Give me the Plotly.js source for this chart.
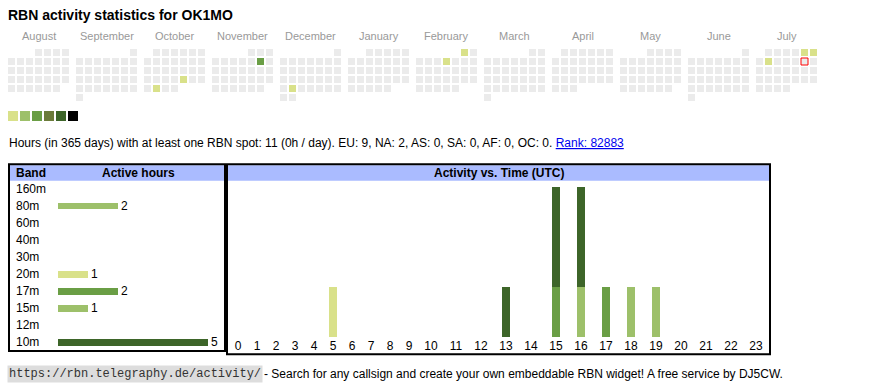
<!DOCTYPE html>
<html><head><meta charset="utf-8">
<script src="https://cdn.plot.ly/plotly-3.0.1.min.js"></script>
<style>html,body{margin:0;padding:0;background:#fff;}#chart{width:870px;height:390px;}</style>
</head><body><div id="chart"></div>
<script>
// ---------------- data ----------------
const callsign = 'OK1MO';
const monthNames = ['August','September','October','November','December','January','February','March','April','May','June','July'];
const firstYear = 2024, firstMonth = 7; // August 2024 (0-based month)
const activeDates = ['2024-10-25','2024-10-29','2024-11-09','2024-12-24','2025-02-01','2025-02-06','2025-07-05','2025-07-06','2025-07-08'];
const activeDayHours = [1,1,3,1,1,1,1,1,1];
const todayDate = '2025-07-12';
const levelColors = ['#d9e18a','#9dc06a','#6a9e45','#6b7b3a','#3d6529','#000000'];
const emptyColor = '#ebebeb';

const bands = ['160m','80m','60m','40m','30m','20m','17m','15m','12m','10m'];
const bandHours = [0,2,0,0,0,1,2,1,0,5];
const bandColors = ['#d9e18a','#9dc06a','#d9e18a','#9dc06a','#6a9e45','#d9e18a','#6a9e45','#9dc06a','#6b7b3a','#3d6529'];

const hourLabels = ['0','1','2','3','4','5','6','7','8','9','10','11','12','13','14','15','16','17','18','19','20','21','22','23'];
const act160m = [0,0,0,0,0,0,0,0,0,0,0,0,0,0,0,0,0,0,0,0,0,0,0,0];
const act80m  = [0,0,0,0,0,0,0,0,0,0,0,0,0,0,0,0,0,0,1,1,0,0,0,0];
const act60m  = [0,0,0,0,0,0,0,0,0,0,0,0,0,0,0,0,0,0,0,0,0,0,0,0];
const act40m  = [0,0,0,0,0,0,0,0,0,0,0,0,0,0,0,0,0,0,0,0,0,0,0,0];
const act30m  = [0,0,0,0,0,0,0,0,0,0,0,0,0,0,0,0,0,0,0,0,0,0,0,0];
const act20m  = [0,0,0,0,0,1,0,0,0,0,0,0,0,0,0,0,0,0,0,0,0,0,0,0];
const act17m  = [0,0,0,0,0,0,0,0,0,0,0,0,0,0,0,1,0,1,0,0,0,0,0,0];
const act15m  = [0,0,0,0,0,0,0,0,0,0,0,0,0,0,0,0,1,0,0,0,0,0,0,0];
const act12m  = [0,0,0,0,0,0,0,0,0,0,0,0,0,0,0,0,0,0,0,0,0,0,0,0];
const act10m  = [0,0,0,0,0,0,0,0,0,0,0,0,0,1,0,2,2,0,0,0,0,0,0,0];
const bandActivity = [act160m,act80m,act60m,act40m,act30m,act20m,act17m,act15m,act12m,act10m];

const totalHours = 11, days = 365;
const continentCounts = {EU:9, NA:2, AS:0, SA:0, AF:0, OC:0};
const rank = 82883;

// ---------------- layout helpers ----------------
const W = 870, H = 390;
const px = x => x / W;
const py = y => 1 - y / H;
const FONT = 'Liberation Sans, Arial, sans-serif';
const cellPitch = 9, monthPitch = 68 / 9;

// calendar cells
const calX = [], calY = [], calC = [], calT = [];
let todayX = null, todayY = null;
const pad = n => (n < 10 ? '0' : '') + n;
for (let m = 0; m < 12; m++) {
  const yr = firstYear + Math.floor((firstMonth + m) / 12);
  const mo = (firstMonth + m) % 12;
  const nDays = new Date(Date.UTC(yr, mo + 1, 0)).getUTCDate();
  const first = (new Date(Date.UTC(yr, mo, 1)).getUTCDay() + 6) % 7;
  for (let d = 1; d <= nDays; d++) {
    const idx = first + d - 1;
    const col = idx % 7, row = Math.floor(idx / 7);
    const iso = yr + '-' + pad(mo + 1) + '-' + pad(d);
    const k = activeDates.indexOf(iso);
    calX.push(m * monthPitch + col);
    calY.push(row);
    calC.push(k < 0 ? emptyColor : levelColors[Math.min(activeDayHours[k], 6) - 1]);
    calT.push(iso);
    if (iso === todayDate) { todayX = m * monthPitch + col; todayY = row; }
  }
}

// hour slot positions (non-uniform: width follows label length)
const hourCenters = [];
let acc = 0;
hourLabels.forEach(l => { const w = l.length === 1 ? 19 : 25; hourCenters.push(acc + w / 2); acc += w; });
const hourSpan = acc;
const actLeft = 228.5;

const traces = [];
traces.push({
  type: 'scatter', mode: 'markers', x: calX, y: calY, text: calT, xaxis: 'x', yaxis: 'y',
  marker: {symbol: 'square', size: 7, color: calC, line: {width: 0}}, hoverinfo: 'text', showlegend: false
});
traces.push({
  type: 'scatter', mode: 'markers', x: [todayX], y: [todayY], xaxis: 'x', yaxis: 'y',
  marker: {symbol: 'square', size: 7, color: emptyColor, line: {width: 1, color: '#ff0000'}}, hoverinfo: 'skip', showlegend: false
});
// legend swatches
traces.push({
  type: 'scatter', mode: 'markers', x: levelColors.map((c, i) => i), y: levelColors.map(() => 0),
  xaxis: 'x4', yaxis: 'y4',
  marker: {symbol: 'square', size: 10, color: levelColors, line: {width: 0}}, hoverinfo: 'skip', showlegend: false
});
// band table bars
traces.push({
  type: 'bar', orientation: 'h', x: bandHours, y: bands, xaxis: 'x2', yaxis: 'y2', width: 0.4,
  marker: {color: bandColors, line: {width: 0}},
  text: bandHours.map(v => v > 0 ? String(v) : ''), textposition: 'outside', cliponaxis: false, constraintext: 'none',
  textfont: {family: FONT, size: 12, color: '#000'}, hoverinfo: 'skip', showlegend: false
});
// activity stacked bars
bands.forEach((b, i) => {
  traces.push({
    type: 'bar', x: hourCenters, y: bandActivity[i], name: b, xaxis: 'x3', yaxis: 'y3', width: 8,
    marker: {color: bandColors[i], line: {width: 0}}, hoverinfo: 'skip', showlegend: false
  });
});

const shapes = [
  {type: 'rect', xref: 'paper', yref: 'paper', x0: px(10), x1: px(224), y0: py(165.3), y1: py(180.7), fillcolor: '#aabbff', line: {width: 0}, layer: 'below'},
  {type: 'rect', xref: 'paper', yref: 'paper', x0: px(228), x1: px(769), y0: py(165.3), y1: py(180.7), fillcolor: '#aabbff', line: {width: 0}, layer: 'below'},
  {type: 'rect', xref: 'paper', yref: 'paper', x0: px(9), x1: px(225), y0: py(164.3), y1: py(351), line: {width: 2, color: '#000'}},
  {type: 'rect', xref: 'paper', yref: 'paper', x0: px(227), x1: px(770), y0: py(164.3), y1: py(354.3), line: {width: 2, color: '#000'}}
];

const annotations = [];
monthNames.forEach((mn, m) => annotations.push({
  text: mn, xref: 'x', yref: 'paper', x: m * monthPitch + 3, y: py(35.5), xanchor: 'center', yanchor: 'middle',
  showarrow: false, font: {family: FONT, size: 11, color: '#999999'}
}));
bands.forEach((b, i) => annotations.push({
  text: b, xref: 'paper', yref: 'y2', x: px(14), y: i, xanchor: 'left', yanchor: 'middle',
  showarrow: false, font: {family: FONT, size: 12, color: '#000'}
}));
annotations.push({text: '<b>Band</b>', xref: 'paper', yref: 'paper', x: px(14), y: py(173), xanchor: 'left', yanchor: 'middle', showarrow: false, font: {family: FONT, size: 12, color: '#000'}});
annotations.push({text: '<b>Active hours</b>', xref: 'paper', yref: 'paper', x: px(138), y: py(173), xanchor: 'center', yanchor: 'middle', showarrow: false, font: {family: FONT, size: 12, color: '#000'}});
annotations.push({text: '<b>Activity vs. Time (UTC)</b>', xref: 'paper', yref: 'paper', x: px(498.5), y: py(173), xanchor: 'center', yanchor: 'middle', showarrow: false, font: {family: FONT, size: 12, color: '#000'}});
const contTxt = Object.keys(continentCounts).map(k => k + ': ' + continentCounts[k]).join(', ');
annotations.push({
  text: 'Hours (in ' + days + ' days) with at least one RBN spot: ' + totalHours + ' (0h / day). ' + contTxt + '. <span style="color:#0000ee"><u>Rank: ' + rank + '</u></span>',
  xref: 'paper', yref: 'paper', x: px(7), y: py(142.5), xanchor: 'left', yanchor: 'middle', showarrow: false,
  font: {family: FONT, size: 12, color: '#000'}
});
annotations.push({
  text: 'https://rbn.telegraphy.de/activity/', xref: 'paper', yref: 'paper', x: px(7), y: py(374), xanchor: 'left', yanchor: 'middle', showarrow: false,
  bgcolor: '#dddddd', borderpad: 1, font: {family: 'Liberation Mono, monospace', size: 12, color: '#333'}
});
annotations.push({
  text: '- Search for any callsign and create your own embeddable RBN widget! A free service by DJ5CW.',
  xref: 'paper', yref: 'paper', x: px(262), y: py(374), xanchor: 'left', yanchor: 'middle', showarrow: false,
  font: {family: FONT, size: 12, color: '#000'}
});

const hidden = {visible: false, fixedrange: true, showgrid: false, zeroline: false};
const layout = {
  width: W, height: H, margin: {l: 0, r: 0, t: 0, b: 0},
  paper_bgcolor: '#fff', plot_bgcolor: 'rgba(0,0,0,0)', showlegend: false, barmode: 'stack',
  title: {text: '<b>RBN activity statistics for ' + callsign + '</b>', xref: 'paper', yref: 'container', x: px(8), xanchor: 'left', y: py(15.5), yanchor: 'middle', font: {family: FONT, size: 14, color: '#000'}},
  xaxis: Object.assign({}, hidden, {domain: [0, 1], range: [-11.5 / cellPitch, (W - 11.5) / cellPitch], anchor: 'y'}),
  yaxis: Object.assign({}, hidden, {domain: [0, 1], range: [(H - 52.5) / cellPitch, -52.5 / cellPitch], anchor: 'x'}),
  xaxis2: Object.assign({}, hidden, {domain: [px(58), px(223)], range: [0, 5.5], anchor: 'y2'}),
  yaxis2: Object.assign({}, hidden, {domain: [py(351), py(180.5)], type: 'category', categoryarray: bands, categoryorder: 'array', range: [bands.length - 0.5, -0.5], anchor: 'x2'}),
  xaxis3: {domain: [px(actLeft), px(actLeft + hourSpan)], range: [0, hourSpan], anchor: 'y3', fixedrange: true,
    showgrid: false, zeroline: false, showline: false, ticks: '', tickmode: 'array', tickvals: hourCenters, ticktext: hourLabels,
    tickfont: {family: FONT, size: 12, color: '#000'}},
  yaxis3: Object.assign({}, hidden, {domain: [py(337), py(187)], range: [0, 3], anchor: 'x3'}),
  xaxis4: Object.assign({}, hidden, {domain: [px(7), px(79)], range: [-0.5, 5.5], anchor: 'y4'}),
  yaxis4: Object.assign({}, hidden, {domain: [py(122), py(110)], range: [-0.5, 0.5], anchor: 'x4'}),
  shapes: shapes, annotations: annotations
};
Plotly.newPlot('chart', traces, layout, {displayModeBar: false, staticPlot: true});
</script>
</body></html>
